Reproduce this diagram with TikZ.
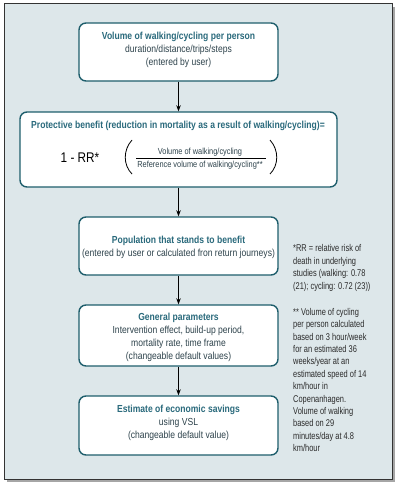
\documentclass[tikz,border=0pt]{standalone}
\usepackage{fontspec}
\setmainfont{Liberation Sans}[FakeStretch=0.84]
\newfontfamily\notefont{Liberation Sans}[FakeStretch=0.76]
\usetikzlibrary{arrows.meta}
\definecolor{panel}{HTML}{DDE7EA}
\definecolor{boxline}{HTML}{1E5E6C}
\definecolor{titlec}{HTML}{2A6A7C}
\definecolor{bodyc}{HTML}{2E434C}
\definecolor{notec}{HTML}{2B2B2B}
\tikzset{
  flowbox/.style={draw=boxline, line width=1.4pt, fill=white, rounded corners=7pt, minimum width=199pt, inner sep=0pt},
  boxtext/.style={align=center, font=\fontsize{10.2}{13}\selectfont, text=bodyc, inner sep=0pt},
  notetext/.style={align=left, font=\notefont\fontsize{9.8}{12.4}\selectfont, text=notec, anchor=north west, inner sep=0pt},
  flowarrow/.style={-{Stealth[length=6pt,width=4.5pt]}, line width=0.7pt, black},
}
\newcommand{\ttl}[1]{{\bfseries\color{titlec}#1}}
\begin{document}
\begin{tikzpicture}[x=1pt,y=-1pt]
\useasboundingbox (0,0) rectangle (400,487);
% panel with shadow
\fill[gray!70] (7,7) rectangle (395,482);
\draw[fill=panel, draw=black!80, line width=1pt] (4,4) rectangle (392,479);

% boxes
\node[flowbox, minimum height=58pt] (b1) at (178.5,52) {};
\node[boxtext] (t1) at (178.5,50) {\ttl{Volume of walking/cycling per person}\\duration/distance/trips/steps\\(entered by user)};

\node[flowbox, minimum width=317pt, minimum height=75pt] (b2) at (178.5,149.5) {};
\node[boxtext] (t2) at (178,126) {\ttl{Protective benefit (reduction in mortality as a result of walking/cycling)=}};
\node[inner sep=0pt, font=\fontsize{14}{16}\selectfont, text=black] (rr) at (80,158) {1 - RR*};
\node[inner sep=0pt, font=\fontsize{8.8}{10}\selectfont, text=bodyc] (num) at (200,152) {Volume of walking/cycling};
\node[inner sep=0pt, font=\fontsize{8.8}{10}\selectfont, text=bodyc] (den) at (200,165) {Reference volume of walking/cycling**};
\draw[line width=0.5pt, black] (136,158.5) -- (266,158.5);
\draw[line width=0.8pt, black] (132,140) .. controls (123,150) and (123,165) .. (132,174);
\draw[line width=0.8pt, black] (270,140) .. controls (279,150) and (279,165) .. (270,174);

\node[flowbox, minimum height=58pt] (b3) at (178.5,246) {};
\node[boxtext] (t3) at (178.5,247.5) {\ttl{Population that stands to benefit}\\(entered by user or calculated fron return journeys)};

\node[flowbox, minimum height=61pt] (b4) at (178.5,335.5) {};
\node[boxtext] (t4) at (178.5,337) {\ttl{General parameters}\\Intervention effect, build-up period,\\mortality rate, time frame\\(changeable default values)};

\node[flowbox, minimum height=59pt] (b5) at (178.5,425.5) {};
\node[boxtext] (t5) at (178.5,423) {\ttl{Estimate of economic savings}\\using VSL\\(changeable default value)};

% arrows
\draw[flowarrow] (b1.south) -- (b2.north);
\draw[flowarrow] (b2.south) -- (b3.north);
\draw[flowarrow] (b3.south) -- (b4.north);
\draw[flowarrow] (b4.south) -- (b5.north);

% notes
\node[notetext] (n1) at (293,244.5) {*RR = relative risk of\\death in underlying\\studies (walking: 0.78\\(21); cycling: 0.72 (23))};
\node[notetext] (n2) at (293,308) {** Volume of cycling\\per person calculated\\based on 3 hour/week\\for an estimated 36\\weeks/year at an\\estimated speed of 14\\km/hour in\\Copenanhagen.\\Volume of walking\\based on 29\\minutes/day at 4.8\\km/hour};
\end{tikzpicture}
\end{document}
